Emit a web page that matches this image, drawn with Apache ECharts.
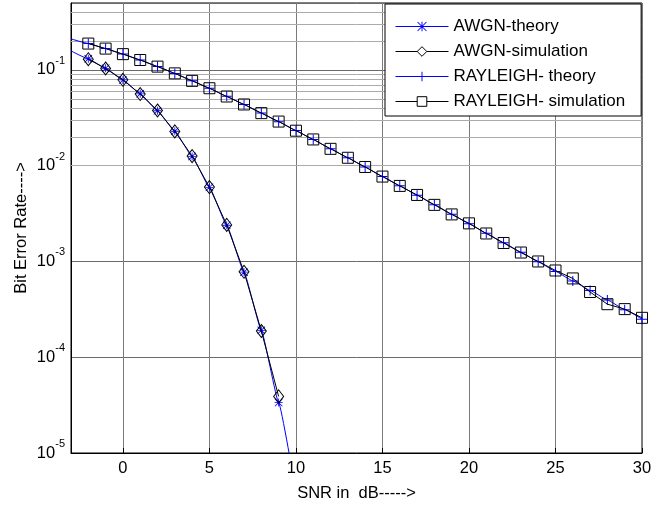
<!DOCTYPE html>
<html><head><meta charset="utf-8">
<script src="https://cdn.jsdelivr.net/npm/echarts@6/dist/echarts.min.js"></script>
<style>html,body{margin:0;padding:0;background:#fff}#c{width:655px;height:507px}</style>
</head><body><div id="c"></div>
<script>
// ---- data ----
const snrAwgnTheory = [-3,-2,-1,0,1,2,3,4,5,6,7,8,9,10];
const berAwgnTheory = [0.158,0.1306,0.104,0.0786,0.0563,0.0375,0.0229,0.0125,0.00595,0.00239,0.000773,0.000191,3.36e-5,3.87e-6];
const snrAwgnSim = [-2,-1,0,1,2,3,4,5,6,7,8,9];
const berAwgnSim = [0.1295,0.1035,0.0789,0.0560,0.0377,0.0228,0.0126,0.00598,0.00241,0.000780,0.000188,3.9e-5];
const snrRayTheory = [-3,-2,-1,0,1,2,3,4,5,6,7,8,9,10,11,12,13,14,15,16,17,18,19,20,21,22,23,24,25,26,27,28,29,30];
const berRayTheory = [0.211,0.189,0.1673,0.1464,0.1267,0.1085,0.0919,0.0771,0.0642,0.0530,0.0435,0.0355,0.0288,0.02327,0.01875,0.01506,0.01208,0.00967,0.00772,0.00617,0.00492,0.00392,0.00312,0.00248,0.00197,0.00157,0.00125,0.000992,0.000788,0.000627,0.000498,0.000396,0.000314,0.000250];
const snrRaySim = [-2,-1,0,1,2,3,4,5,6,7,8,9,10,11,12,13,14,15,16,17,18,19,20,21,22,23,24,25,26,27,28,29,30];
const berRaySim = [0.1885,0.1670,0.1462,0.1270,0.1083,0.0921,0.0769,0.0644,0.0528,0.0436,0.0354,0.0289,0.0232,0.0188,0.0150,0.0121,0.00970,0.00770,0.00615,0.00495,0.00390,0.00310,0.00250,0.00196,0.00156,0.00124,0.00100,0.000805,0.000665,0.000480,0.000358,0.000318,0.000258];
const seriesNames = ['AWGN-theory','AWGN-simulation','RAYLEIGH- theory','RAYLEIGH- simulation'];
const xTickLabels = [0,5,10,15,20,25,30];

// ---- helpers ----
function pairs(xs, ys){ return xs.map((x,i)=>[x, ys[i]]); }
const FONT = "'Liberation Sans', Arial, sans-serif";
const PLUS = 'path://M4.5,0 H5.5 V4.5 H10 V5.5 H5.5 V10 H4.5 V5.5 H0 V4.5 H4.5 Z';
const STAR = 'path://M4.5,0 H5.5 V4.5 H10 V5.5 H5.5 V10 H4.5 V5.5 H0 V4.5 H4.5 Z M0,0.7 L0.7,0 L10,9.3 L9.3,10 Z M10,0.7 L0.7,10 L0,9.3 L9.3,0 Z';
const BLUE = '#0000ff';

// minor horizontal grid lines of the log axis (2..9 x decade)
const minorGrid = [];
for (let e = -5; e <= -1; e++) for (let k = 2; k <= 9; k++) { const v = k * Math.pow(10, e); if (v < 0.5) minorGrid.push(v); }

function theoryData(xs, ys){
  return pairs(xs, ys).map(p => p[0] < -2.5 ? {value: p, symbol: 'none'} : {value: p});
}

const chart = echarts.init(document.getElementById('c'), null, {renderer: 'canvas'});
chart.setOption({
  animation: false,
  backgroundColor: '#fff',
  textStyle: {fontFamily: FONT},
  grid: {left: 71, right: 13, top: 3, bottom: 52, containLabel: false,
         show: true, borderColor: '#000', borderWidth: 1, backgroundColor: 'transparent'},
  legend: {
    orient: 'vertical', left: 385, top: 4,
    padding: [14, 16, 6, 10],
    itemWidth: 53, itemHeight: 12, itemGap: 8,
    borderColor: '#000', borderWidth: 1, backgroundColor: '#fff',
    selectedMode: false,
    textStyle: {fontSize: 17, color: '#000', fontFamily: FONT},
    data: [
      {name: seriesNames[0], itemStyle: {color: BLUE, borderWidth: 0}, lineStyle: {color: BLUE, width: 1}},
      {name: seriesNames[1], itemStyle: {color: '#fff', borderColor: '#000', borderWidth: 1}, lineStyle: {color: '#000', width: 1}},
      {name: seriesNames[2], itemStyle: {color: BLUE, borderWidth: 0}, lineStyle: {color: BLUE, width: 1}},
      {name: seriesNames[3], itemStyle: {color: '#fff', borderColor: '#000', borderWidth: 1}, lineStyle: {color: '#000', width: 1}}
    ],
    z: 10
  },
  xAxis: {
    type: 'value', min: -3, max: 30, splitNumber: 6,
    name: 'SNR in  dB----->', nameLocation: 'middle', nameGap: 32,
    nameTextStyle: {fontSize: 16.5, color: '#000', fontFamily: FONT},
    axisLine: {show: true, onZero: false, lineStyle: {color: '#000', width: 1}},
    axisTick: {show: true, inside: true, length: 5, lineStyle: {color: '#000'}},
    axisLabel: {show: true, margin: 7, fontSize: 16.5, color: '#000', fontFamily: FONT, showMinLabel: false,
      formatter: v => (xTickLabels.indexOf(Math.round(v)) >= 0 && Math.abs(v - Math.round(v)) < 1e-9) ? String(Math.round(v)) : ''},
    splitLine: {show: true, lineStyle: {color: '#7a7a7a', width: 1}}
  },
  yAxis: {
    type: 'log', logBase: 10, min: 1e-5, max: 0.5,
    name: 'Bit Error Rate---->', nameLocation: 'middle', nameGap: 41, nameMoveOverlap: false,
    nameTextStyle: {fontSize: 16.5, color: '#000', fontFamily: FONT},
    axisLine: {show: true, onZero: false, lineStyle: {color: '#000', width: 1}},
    axisTick: {show: false},
    axisLabel: {show: true, margin: 6, color: '#000', fontFamily: FONT,
      formatter: function(v){
        const l = Math.log10(v); const e = Math.round(l);
        if (Math.abs(l - e) > 1e-6) return '';
        return '{b|10}{s|' + e + '}';
      },
      rich: {
        b: {fontSize: 16.5, color: '#000', fontFamily: FONT},
        s: {fontSize: 11, color: '#000', fontFamily: FONT, padding: [0, 0, 18, 0]}
      }
    },
    splitLine: {show: true, lineStyle: {color: '#6a6a6a', width: 1}}
  },
  series: [
    {
      name: seriesNames[0], type: 'line', data: theoryData(snrAwgnTheory, berAwgnTheory),
      symbol: STAR, symbolSize: 8, smooth: 0.12, smoothMonotone: 'x',
      itemStyle: {color: BLUE}, lineStyle: {color: BLUE, width: 1}, z: 3,
      markLine: {
        silent: true, symbol: ['none', 'none'], label: {show: false}, z: 1,
        lineStyle: {color: '#ababab', type: 'solid', width: 1},
        emphasis: {disabled: true},
        data: minorGrid.map(v => ({yAxis: v}))
      }
    },
    {
      name: seriesNames[1], type: 'line', data: pairs(snrAwgnSim, berAwgnSim),
      symbol: 'diamond', symbolSize: [10, 13],
      itemStyle: {color: 'transparent', borderColor: '#000', borderWidth: 1},
      lineStyle: {color: '#000', width: 1}, z: 4
    },
    {
      name: seriesNames[2], type: 'line', data: theoryData(snrRayTheory, berRayTheory),
      symbol: PLUS, symbolSize: 10, smooth: 0.12, smoothMonotone: 'x',
      itemStyle: {color: BLUE}, lineStyle: {color: BLUE, width: 1}, z: 3
    },
    {
      name: seriesNames[3], type: 'line', data: pairs(snrRaySim, berRaySim),
      symbol: 'rect', symbolSize: 11,
      itemStyle: {color: 'transparent', borderColor: '#000', borderWidth: 1},
      lineStyle: {color: '#000', width: 1}, z: 4
    }
  ]
});
</script>
</body></html>
